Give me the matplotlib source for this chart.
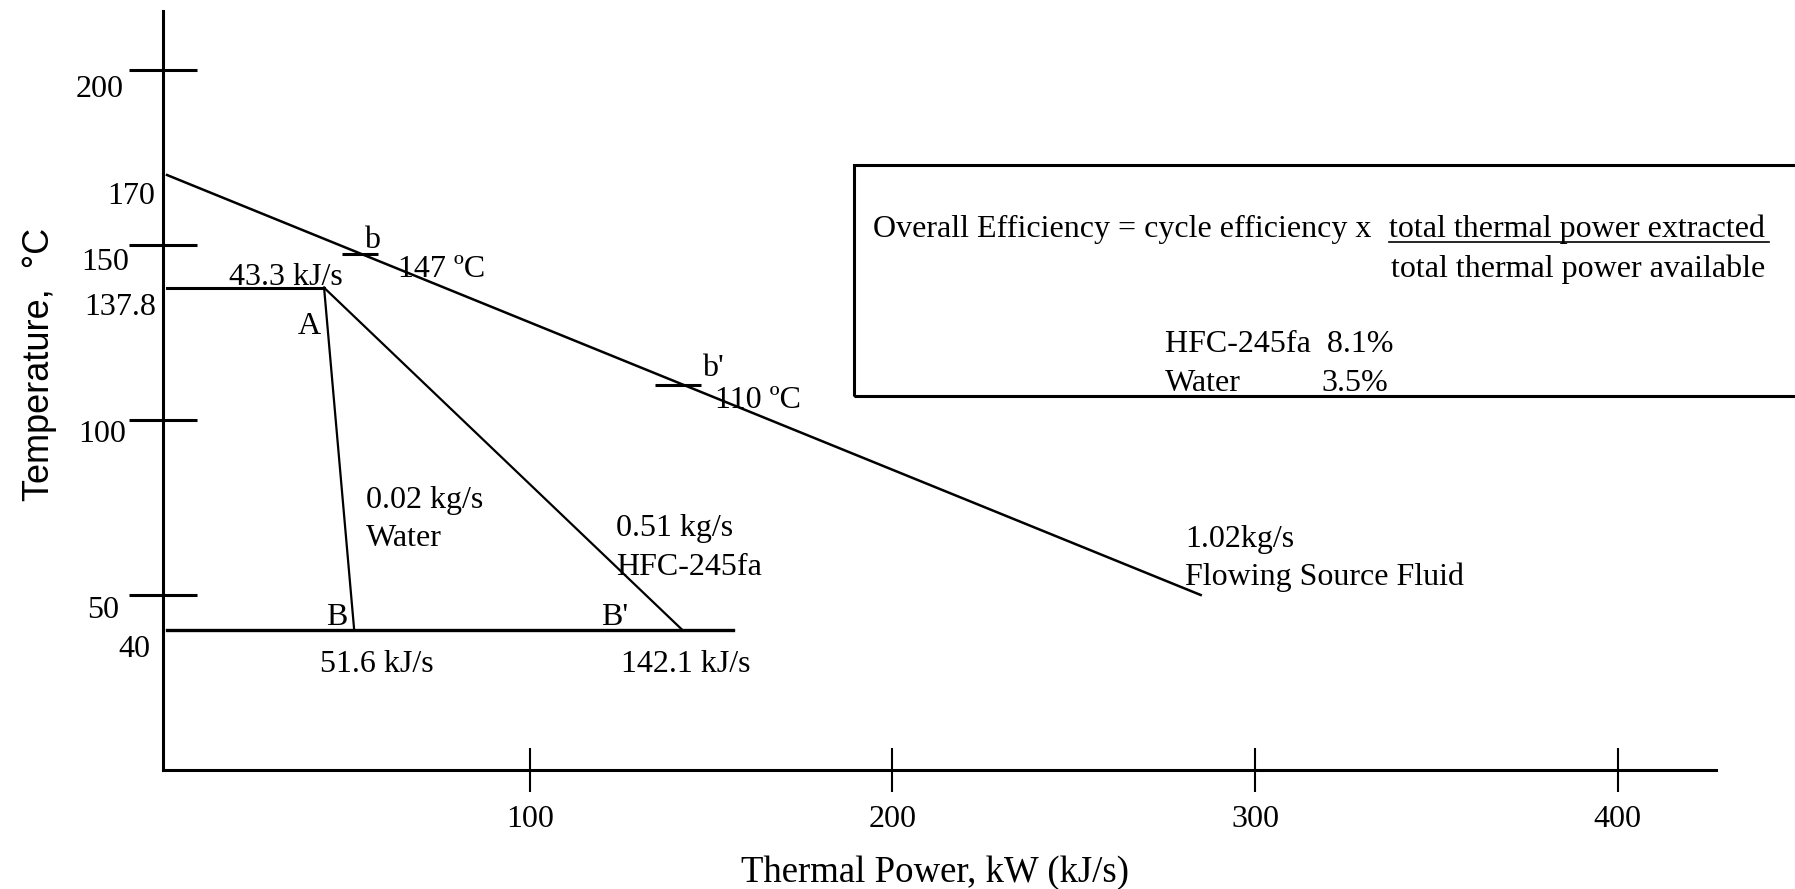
import matplotlib
matplotlib.use("Agg")
import matplotlib.pyplot as plt
from matplotlib.patches import Rectangle

plt.rcParams['font.family'] = ['Liberation Serif', 'DejaVu Serif']

# lines of the diagram (thermal power kJ/s, temperature C)
source_x = [0, 285]
source_t = [170, 50]
evap_x = [0, 43.3]
evap_t = [137.8, 137.8]
water_x = [43.3, 51.6]
water_t = [137.8, 40]
hfc_x = [43.3, 142.1]
hfc_t = [137.8, 40]
cond_x = [0, 156]
cond_t = [40, 40]

# pinch marks on the source line
b_x = [53.1]
b_t = [147.5]
bp_x = [141.0]
bp_t = [110]

y_tick_vals = [50, 100, 150, 200]
x_tick_vals = [100, 200, 300, 400]

# hand placed temperature labels (text, x, baseline y)
y_labels = [("200", -11.9, 192.3), ("170", -3.3, 161.8), ("150", -10.5, 142.8),
            ("137.8", -3.0, 130.1), ("100", -11.3, 93.6), ("50", -13.2, 43.3),
            ("40", -4.7, 32.3)]

notes = [("43.3 kJ/s", 17.1, 138.6), ("A", 36.1, 124.5), ("b", 54.3, 149.1),
         ("147 ºC", 63.7, 140.8), ("b'", 147.5, 112.6), ("110 ºC", 151.1, 103.5),
         ("0.02 kg/s", 54.9, 74.8), ("Water", 54.9, 64.0),
         ("0.51 kg/s", 123.8, 66.8), ("HFC-245fa", 123.8, 55.8),
         ("B", 43.8, 41.4), ("B'", 119.7, 41.4),
         ("51.6 kJ/s", 42.3, 28.0), ("142.1 kJ/s", 125.3, 28.0),
         ("1.02kg/s", 280.7, 63.7), ("Flowing Source Fluid", 280.7, 52.8)]

box_notes = [("Overall Efficiency = cycle efficiency x", 194.6, 152.3),
             ("total thermal power extracted", 336.9, 152.3),
             ("total thermal power available", 337.5, 140.9),
             ("HFC-245fa  8.1%", 275.1, 119.3),
             ("Water", 275.1, 108.2), ("3.5%", 318.2, 108.2)]

fs = 23

fig = plt.figure(figsize=(17.95, 8.89), dpi=100)
ax = fig.add_axes([163.4 / 1795, 119 / 889, 428 * 3.627 / 1795, 217 * 3.5 / 889])
ax.set_xlim(-1, 427)
ax.set_ylim(0, 217)

for s in ['top', 'right']:
    ax.spines[s].set_visible(False)
ax.spines['left'].set_linewidth(2.2)
ax.spines['bottom'].set_linewidth(2.2)

ax.set_yticks(y_tick_vals)
ax.tick_params(axis='y', direction='inout', length=49, width=2.2, labelleft=False)
ax.set_xticks(x_tick_vals)
ax.set_xticklabels([str(v) for v in x_tick_vals], fontsize=fs)
ax.tick_params(axis='x', direction='inout', length=31.7, width=1.5, pad=9)

ax.plot(source_x, source_t, color='black', lw=1.8)
ax.plot(evap_x, evap_t, color='black', lw=2.2)
ax.plot(water_x, water_t, color='black', lw=1.6)
ax.plot(hfc_x, hfc_t, color='black', lw=1.6)
ax.plot(cond_x, cond_t, color='black', lw=2.4)
ax.plot(b_x, b_t, marker='_', markersize=26, mew=2.2, color='black', ls='none')
ax.plot(bp_x, bp_t, marker='_', markersize=33, mew=2.2, color='black', ls='none')

for txt, x, y in y_labels:
    ax.text(x, y, txt, ha='right', va='baseline', fontsize=fs, clip_on=False)
for txt, x, y in notes:
    ax.text(x, y, txt, ha='left', va='baseline', fontsize=fs)

# efficiency box, runs off the right edge
ax.add_patch(Rectangle((189.4, 106.9), 300, 66.0, fill=False, lw=2.2,
                       edgecolor='black', clip_on=False))
for txt, x, y in box_notes:
    ax.text(x, y, txt, ha='left', va='baseline', fontsize=fs, clip_on=False)
ax.plot([336.9, 441.7], [151.0, 151.0], color='black', lw=1.2, clip_on=False)

ax.text(-35.2, 116, "Temperature,  °C", rotation=90, ha='center', va='center',
        fontsize=26, family=['Liberation Sans', 'DejaVu Sans'], clip_on=False)
ax.text(211.7, -32.0, "Thermal Power, kW (kJ/s)", ha='center', va='baseline',
        fontsize=26.5, clip_on=False)

fig.savefig("out.png", dpi=100)
